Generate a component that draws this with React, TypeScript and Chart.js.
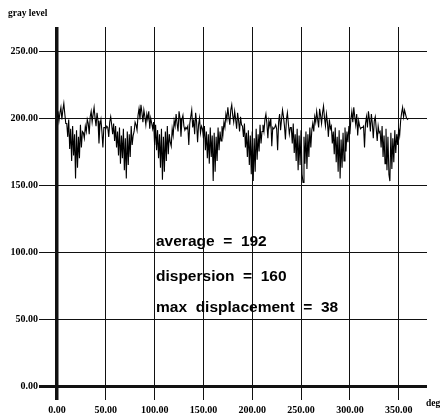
import React, { useEffect, useRef } from "react";
import { Chart, registerables } from "chart.js";

Chart.register(...registerables);

// gray level sampled every degree, 0..360
const GRAY: number[] = [
  201, 205, 198, 204, 208, 199, 206, 211, 203, 196,
  196, 186, 199, 177, 192, 168, 194, 172, 188, 155, 191, 163, 186, 170, 195, 178, 190, 189, 185,
  194, 190, 199, 196, 188, 201, 205, 197, 203, 208, 200, 194, 204, 198, 181, 195, 199, 190, 178, 193,
  193, 192, 194, 193, 186, 197, 201, 195, 188,
  196, 183, 194, 178, 190, 172, 193, 166, 187, 170, 192, 161, 185, 155, 190, 165, 188, 171, 194, 180,
  187, 190, 197, 195, 191,
  202, 207, 199, 210, 204, 197, 206, 201, 195, 203, 199, 205, 192, 200, 196,
  192, 197, 180, 195, 176, 191, 170, 188, 163, 192, 154, 186, 160, 190, 168, 194, 173, 188, 182, 179,
  192,
  187, 198, 194, 203, 196, 190, 205, 200, 186, 199, 202, 194, 191, 193, 192, 194, 180, 196, 201, 206,
  193, 199, 188, 204, 197, 182, 195, 200, 189, 194,
  192, 185, 194, 176, 190, 170, 188, 166, 193, 171, 187, 153, 189, 160, 186, 168, 193, 176, 190, 183,
  194, 188, 197, 193,
  203, 199, 208, 201, 195, 206, 210, 202, 197, 205, 199, 192, 204, 198, 190, 201, 195,
  194, 186, 196, 178, 189, 171, 191, 165, 187, 158, 190, 153, 185, 160, 192, 169, 188, 175, 195, 181,
  190, 195,
  190, 199, 203, 196, 185, 198, 194, 200, 179, 193, 192, 193, 195, 192, 176, 197, 203, 191, 199, 206,
  201, 194, 184, 199, 204, 196, 188, 193,
  193, 181, 196, 174, 188, 168, 192, 161, 187, 165, 191, 158, 152, 186, 166, 190, 162, 188, 171, 193,
  178, 191, 196,
  190, 201, 197, 205, 199, 193, 207, 202, 196, 204, 209, 200, 194, 203, 197, 186, 199, 192,
  194, 181, 190, 173, 193, 167, 186, 160, 191, 155, 184, 163, 189, 168, 193, 175, 190, 182, 194, 188,
  199, 205, 197, 208, 201, 195, 203, 187, 198, 194, 192, 193, 193, 194, 178, 196, 201, 193, 205, 199,
  190, 203, 196, 185, 198, 201, 192, 183, 194, 189,
  190, 178, 194, 171, 187, 166, 192, 161, 186, 158, 153, 189, 162, 185, 167, 191, 174, 188, 180, 192,
  187,
  198, 204, 208, 201, 206, 203, 200, 199, 200,
];
const DEG_STEP = 1;
const DEGREES: number[] = GRAY.map((_, i) => i * DEG_STEP);

const X_TICKS: number[] = [0, 50, 100, 150, 200, 250, 300, 350];
const Y_TICKS: number[] = [0, 50, 100, 150, 200, 250];

const Y_LABEL = "gray level";
const X_LABEL = "deg";
const STATS: string[] = [
  "average  =  192",
  "dispersion  =  160",
  "max  displacement  =  38",
];

export default function App() {
  const ref = useRef<HTMLCanvasElement | null>(null);

  useEffect(() => {
    if (!ref.current) return;
    const textPlugin = {
      id: "texts",
      afterDraw(chart: any) {
        const ctx = chart.ctx;
        ctx.save();
        ctx.fillStyle = "#000";
        ctx.font = "bold 9.5px 'Liberation Serif'";
        ctx.textBaseline = "alphabetic";
        ctx.textAlign = "left";
        ctx.fillText(Y_LABEL, 8, 16);
        ctx.fillText(X_LABEL, 426, 406);
        ctx.font = "bold 15.5px 'Liberation Sans'";
        ctx.textBaseline = "middle";
        const ys = [242, 277, 308];
        STATS.forEach((s, i) => ctx.fillText(s, 156, ys[i]));
        ctx.restore();
      },
    };

    const chart = new Chart(ref.current, {
      type: "line",
      data: {
        datasets: [
          {
            data: DEGREES.map((d, i) => ({ x: d, y: GRAY[i] })),
            borderColor: "#000",
            borderWidth: 1.1,
            pointRadius: 0,
            tension: 0,
            fill: false,
          },
        ],
      },
      options: {
        animation: false,
        responsive: false,
        layout: { padding: { left: 0, right: 13, top: 27, bottom: 0 } },
        plugins: { legend: { display: false }, tooltip: { enabled: false } },
        scales: {
          x: {
            type: "linear",
            min: 0,
            max: 379,
            border: { display: false },
            afterBuildTicks: (s: any) => {
              s.ticks = X_TICKS.map((v) => ({ value: v }));
            },
            afterFit: (s: any) => {
              s.height = 31;
            },
            grid: {
              color: "#111",
              lineWidth: (c: any) => (c.tick && c.tick.value === 0 ? 3.5 : 1),
              tickLength: 14,
              drawTicks: true,
            },
            ticks: {
              color: "#000",
              padding: 4,
              maxRotation: 0,
              font: { family: "'Liberation Serif'", size: 10, weight: "bold" },
              callback: (v: any) => Number(v).toFixed(2),
            },
          },
          y: {
            min: 0,
            max: 268,
            border: { display: false },
            afterBuildTicks: (s: any) => {
              s.ticks = Y_TICKS.map((v) => ({ value: v }));
            },
            afterFit: (s: any) => {
              s.width = 57;
            },
            grid: {
              color: "#111",
              lineWidth: (c: any) => (c.tick && c.tick.value === 0 ? 3 : 1),
              tickLength: 18,
            },
            ticks: {
              color: "#000",
              padding: 1,
              font: { family: "'Liberation Serif'", size: 10, weight: "bold" },
              callback: (v: any) => Number(v).toFixed(2),
            },
          },
        },
      },
      plugins: [textPlugin],
    });
    return () => chart.destroy();
  }, []);

  return (
    <div style={{ position: "absolute", left: 0, top: 0, width: 440, height: 417, background: "#fff" }}>
      <canvas ref={ref} width={440} height={417} />
    </div>
  );
}
